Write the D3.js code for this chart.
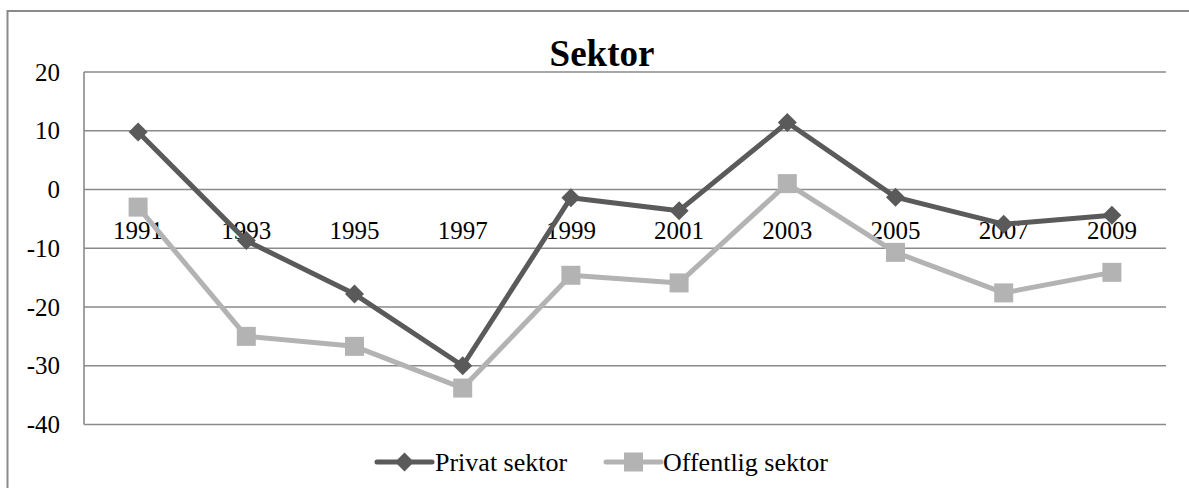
<!DOCTYPE html>
<html><head><meta charset="utf-8">
<script src="https://cdn.jsdelivr.net/npm/d3@7"></script>
<style>body{margin:0;background:#fff}svg{display:block}</style>
</head><body><svg id="c" width="1189" height="488"></svg>
<script>
const years = ["1991","1993","1995","1997","1999","2001","2003","2005","2007","2009"];
const privat = [9.8, -8.7, -17.8, -30.0, -1.4, -3.6, 11.4, -1.3, -5.9, -4.4];
const offentlig = [-3.0, -25.0, -26.7, -33.8, -14.6, -15.9, 1.0, -10.7, -17.6, -14.1];
const yTicks = [20, 10, 0, -10, -20, -30, -40];
const seriesNames = ["Privat sektor", "Offentlig sektor"];
const title = "Sektor";

const svg = d3.select("#c");
const font = "'Liberation Serif','Times New Roman',serif";
const gridColor = "#8a8a8a";
const cDark = "#5a5a5a", cLight = "#b3b3b3";

// outer border (extends past the right/bottom edges like the reference)
svg.append("rect").attr("x", 7.5).attr("y", 11).attr("width", 1300).attr("height", 600)
  .attr("fill", "none").attr("stroke", gridColor).attr("stroke-width", 2);

const L = 84, R = 1166, T = 72, B = 424.5;
const x = d3.scaleBand().domain(years).range([L, R]);
const y = d3.scaleLinear().domain([-40, 20]).range([B, T]);

// gridlines
svg.append("g").selectAll("line").data(yTicks).join("line")
  .attr("x1", L).attr("x2", R).attr("y1", d => y(d)).attr("y2", d => y(d))
  .attr("stroke", gridColor).attr("stroke-width", 1.6);
// y axis line
svg.append("line").attr("x1", L).attr("x2", L).attr("y1", T).attr("y2", B)
  .attr("stroke", gridColor).attr("stroke-width", 1.6);

// y tick labels (plain hyphen minus as in the reference)
const yAxis = d3.axisLeft(y).tickValues(yTicks).tickSize(0).tickPadding(24).tickFormat(d => String(d));
const ga = svg.append("g").attr("transform", `translate(${L},0)`).call(yAxis);
ga.select(".domain").remove();
ga.selectAll("text").attr("font-family", font).attr("font-size", 25).attr("fill", "#000");

// category labels (at zero line)
const xAxis = d3.axisBottom(x).tickSize(0).tickPadding(32);
const gx = svg.append("g").attr("transform", `translate(0,${y(0)})`).call(xAxis);
gx.select(".domain").remove();
gx.selectAll("text").attr("font-family", font).attr("font-size", 25).attr("fill", "#000");

const cx = d => x(d) + x.bandwidth() / 2;
const line = d3.line().x((d, i) => cx(years[i])).y(d => y(d));

svg.append("path").datum(offentlig).attr("d", line).attr("fill", "none")
  .attr("stroke", cLight).attr("stroke-width", 5).attr("stroke-linejoin", "round");
svg.append("g").selectAll("rect").data(offentlig).join("rect")
  .attr("x", (d, i) => cx(years[i]) - 9.5).attr("y", d => y(d) - 9.5)
  .attr("width", 19).attr("height", 19).attr("fill", cLight);

svg.append("path").datum(privat).attr("d", line).attr("fill", "none")
  .attr("stroke", cDark).attr("stroke-width", 5).attr("stroke-linejoin", "round");
const diamond = s => `M0,${-s}L${s},0L0,${s}L${-s},0Z`;
svg.append("g").selectAll("path").data(privat).join("path")
  .attr("d", diamond(9.5))
  .attr("transform", (d, i) => `translate(${cx(years[i])},${y(d)})`)
  .attr("fill", cDark);

// title
svg.append("text").attr("x", 602).attr("y", 66).attr("text-anchor", "middle")
  .attr("font-family", font).attr("font-weight", "bold").attr("font-size", 37)
  .attr("fill", "#000").text(title);

// legend
const ly = 462;
const leg = [
  {name: seriesNames[0], color: cDark, x1: 377, x2: 432, tx: 435, shape: "d"},
  {name: seriesNames[1], color: cLight, x1: 606, x2: 661, tx: 663, shape: "s"}
];
const lg = svg.append("g");
leg.forEach(l => {
  lg.append("line").attr("x1", l.x1).attr("x2", l.x2).attr("y1", ly).attr("y2", ly)
    .attr("stroke", l.color).attr("stroke-width", 5).attr("stroke-linecap", "round");
  const m = (l.x1 + l.x2) / 2;
  if (l.shape === "d") lg.append("path").attr("d", diamond(9.5)).attr("transform", `translate(${m},${ly})`).attr("fill", l.color);
  else lg.append("rect").attr("x", m - 9.5).attr("y", ly - 9.5).attr("width", 19).attr("height", 19).attr("fill", l.color);
  lg.append("text").attr("x", l.tx).attr("y", ly).attr("dy", "0.33em")
    .attr("font-family", font).attr("font-size", 26).attr("fill", "#000").text(l.name);
});
</script></body></html>
